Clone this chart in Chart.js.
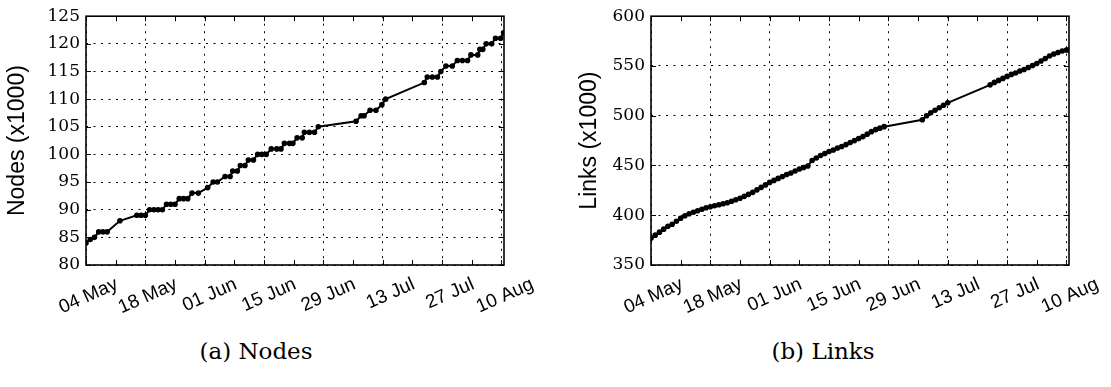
<!DOCTYPE html>
<html>
<head>
<meta charset="utf-8">
<script src="https://cdn.jsdelivr.net/npm/chart.js@4.4.0/dist/chart.umd.min.js"></script>
<style>
  body { margin: 0; background: #fff; width: 1111px; height: 387px; position: relative; overflow: hidden; }
  .panel { position: absolute; top: 0; }
  .caption { position: absolute; top: 336px; width: 300px; text-align: center;
             font-family: "DejaVu Serif", serif; font-size: 23px; line-height: 30px; color: #000; }
</style>
</head>
<body>
<div class="panel" style="left:0"><canvas id="nodes-chart" width="555" height="330"></canvas></div>
<div class="panel" style="left:556px"><canvas id="links-chart" width="555" height="330"></canvas></div>
<div class="caption" style="left:106px">(a) Nodes</div>
<div class="caption" style="left:673px">(b) Links</div>
<script>
// days counted from 04 May
const tickDays = [0, 14, 28, 42, 56, 70, 84, 98];
const tickLabels = ['04 May', '18 May', '01 Jun', '15 Jun', '29 Jun', '13 Jul', '27 Jul', '10 Aug'];
const minorDays = [7, 21, 35, 49, 63, 77, 91];

// nodes (x1000)
const nodeDays = [0, 1, 2, 3, 4, 5, 8, 12, 13, 14, 15, 16, 17, 18, 19, 20, 21, 22, 23, 24,
  25, 26.5, 28.7, 30, 31, 32.8, 34, 34.6, 35.7, 36.4, 37.5, 38.3, 39.5, 40.5, 41.5, 42.5,
  43.7, 45, 46, 46.8, 48, 48.8, 49.8, 51, 51.5, 52.7, 53.9, 54.8, 63.7, 64.9, 65.6, 67, 68.4,
  69.8, 70.7, 79.8, 80.5, 81.7, 82.9, 83.7, 84.9, 86.4, 87.6, 88.8, 90, 90.8, 92.4, 92.9,
  93.6, 94.4, 95.7, 96.6, 97.8, 98.5];
const nodeValues = [84, 84.6, 85, 86, 86, 86, 88, 89, 89, 89, 90, 90, 90, 90, 91, 91, 91, 92, 92, 92,
  93, 93, 94, 95, 95, 96, 96, 97, 97, 98, 98, 99, 99, 100, 100, 100,
  101, 101, 101, 102, 102, 102, 103, 103, 104, 104, 104, 105, 106, 107, 107, 108, 108,
  109, 110, 113, 114, 114, 114, 115, 116, 116, 117, 117, 117, 118, 118, 119,
  119, 120, 120, 121, 121, 122];

// links (x1000)
const linkDays = [0, 1, 2, 3, 4, 5, 6, 7, 8, 9, 10, 11, 12, 13, 14, 15, 16, 17, 18, 19, 20,
  21, 22, 23, 24, 25, 26, 27, 28, 29, 30, 31, 32, 33, 34, 35, 36, 37, 38, 39, 40, 41, 42,
  43, 44, 45, 46, 47, 48, 49, 50, 51, 52, 53, 54, 55, 64, 65, 66, 67, 68, 69, 70,
  80, 81, 82, 83, 84, 85, 86, 87, 88, 89, 90, 91, 92, 93, 94, 95, 96, 97, 98, 98.5];
const linkValues = [377, 380, 383, 386, 389, 391, 394, 397, 399.5, 401.5, 403, 404.5, 406, 407.5, 408.5, 409.5, 410.5, 411.5, 412.5, 414, 415.5,
  417, 419, 421, 423, 425.5, 428, 430.5, 433, 435, 437, 439, 441, 442.5, 444.5, 446.5, 448, 449.5, 455, 457.5, 460, 462, 464,
  465.5, 467.5, 469, 471, 473, 475, 477, 479, 481.5, 484, 486, 487.5, 489, 496, 500, 503, 505.5, 508, 510.5, 513,
  531, 533.5, 535.5, 537.5, 539.5, 541.5, 543, 545, 546.5, 548.5, 550.5, 552.5, 555, 557.5, 560, 562, 563.5, 565, 566, 566];

// frame + inward tick marks like the gnuplot original
const framePlugin = {
  id: 'frame',
  afterDraw(chart) {
    const {ctx, chartArea: a, scales: {x, y}} = chart;
    ctx.save();
    ctx.strokeStyle = '#000';
    ctx.lineWidth = 1;
    ctx.beginPath();
    tickDays.concat(minorDays).forEach(d => {
      const px = Math.round(x.getPixelForValue(d)) + 0.5;
      ctx.moveTo(px, a.bottom); ctx.lineTo(px, a.bottom - 5);
      ctx.moveTo(px, a.top); ctx.lineTo(px, a.top + 5);
    });
    y.ticks.forEach(t => {
      const py = Math.round(y.getPixelForValue(t.value)) + 0.5;
      ctx.moveTo(a.left, py); ctx.lineTo(a.left + 5, py);
      ctx.moveTo(a.right, py); ctx.lineTo(a.right - 5, py);
    });
    ctx.stroke();
    ctx.lineWidth = 1.6;
    ctx.strokeRect(a.left, a.top, a.right - a.left, a.bottom - a.top);
    ctx.restore();
  }
};

function makeChart(id, days, values, yMin, yMax, yStep, title, yWidth, titlePad) {
  const ctx = document.getElementById(id).getContext('2d');
  return new Chart(ctx, {
    type: 'line',
    data: {
      datasets: [{
        data: days.map((d, i) => ({x: d, y: values[i]})),
        borderColor: '#000',
        backgroundColor: '#000',
        borderWidth: 2,
        pointRadius: 1.8,
        pointHoverRadius: 1.8,
        tension: 0
      }]
    },
    options: {
      responsive: false,
      animation: false,
      devicePixelRatio: 1,
      layout: { padding: { top: 13, right: 555 - (yWidth + 418), left: 0, bottom: 0 } },
      plugins: { legend: { display: false }, tooltip: { enabled: false } },
      scales: {
        x: {
          type: 'linear',
          min: 0,
          max: 98.6,
          afterBuildTicks: s => { s.ticks = tickDays.map(v => ({value: v})); },
          afterFit: s => { s.height = 65; },
          grid: { color: '#000', lineWidth: 1, drawTicks: false },
          border: { display: false, dash: [2, 5.5] },
          ticks: {
            autoSkip: false,
            minRotation: 24,
            maxRotation: 24,
            padding: 8,
            labelOffset: 31,
            color: '#000',
            font: { family: "'Liberation Sans', Arial, sans-serif", size: 19 },
            callback: v => tickLabels[tickDays.indexOf(v)]
          }
        },
        y: {
          min: yMin,
          max: yMax,
          afterFit: s => { s.width = yWidth; },
          grid: { color: '#000', lineWidth: 1, drawTicks: false },
          border: { display: false, dash: [2, 5.5] },
          ticks: {
            stepSize: yStep,
            padding: 6,
            color: '#000',
            font: { family: "'DejaVu Serif', serif", size: 17 }
          },
          title: {
            display: true,
            text: title,
            color: '#000',
            font: { family: "'Liberation Sans', Arial, sans-serif", size: 23 },
            padding: { top: titlePad, bottom: 0 }
          }
        }
      }
    },
    plugins: [framePlugin]
  });
}

makeChart('nodes-chart', nodeDays, nodeValues, 80, 125, 5, 'Nodes (x1000)', 86, 4);
makeChart('links-chart', linkDays, linkValues, 350, 600, 50, 'Links (x1000)', 95, 20);
</script>
</body>
</html>
